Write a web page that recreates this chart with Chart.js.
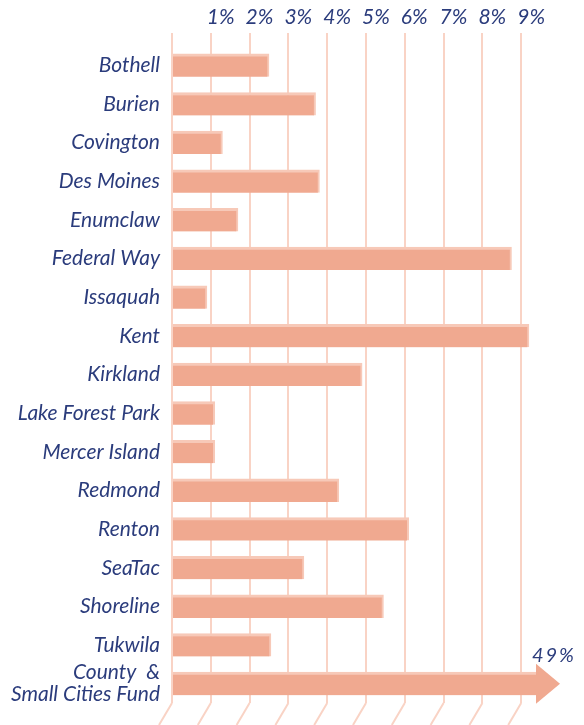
<!DOCTYPE html>
<html>
<head>
<meta charset="utf-8">
<script src="https://cdn.jsdelivr.net/npm/chart.js@4"></script>
<style>
  html, body { margin: 0; padding: 0; background: #fff; }
  #wrap { width: 584px; height: 725px; position: relative; }
</style>
</head>
<body>
<div id="wrap"><canvas id="chart"></canvas></div>
<script>
const cities = [
    'Bothell', 'Burien', 'Covington', 'Des Moines', 'Enumclaw', 'Federal Way',
    'Issaquah', 'Kent', 'Kirkland', 'Lake Forest Park', 'Mercer Island',
    'Redmond', 'Renton', 'SeaTac', 'Shoreline', 'Tukwila',
    ['County  &', 'Small Cities Fund']
];
const shares = [2.5, 3.7, 1.3, 3.8, 1.7, 8.75, 0.9, 9.2, 4.9, 1.1, 1.1, 4.3, 6.1, 3.4, 5.45, 2.55, 49];
const tickLabels = ['1%', '2%', '3%', '4%', '5%', '6%', '7%', '8%', '9%'];

const navy = '#2b3c7c';
const salmon = '#f0a990';
const gridPink = '#f9d3c5';

// floor lines under the grid + arrow head for the big bar
const extras = {
    id: 'extras',
    beforeDatasetsDraw(chart) {
        const { ctx, chartArea, scales } = chart;
        ctx.save();
        ctx.strokeStyle = gridPink;
        ctx.lineWidth = 2;
        for (let v = 0; v <= 9; v++) {
            const x = scales.x.getPixelForValue(v);
            ctx.beginPath();
            ctx.moveTo(x, chartArea.bottom);
            ctx.lineTo(x - 13, chart.height);
            ctx.stroke();
        }
        ctx.restore();
    },
    afterDatasetsDraw(chart) {
        const { ctx, chartArea } = chart;
        const meta = chart.getDatasetMeta(0);
        const last = meta.data[meta.data.length - 1];
        const tip = chartArea.right;
        const base = tip - 24;
        ctx.save();
        ctx.fillStyle = salmon;
        ctx.beginPath();
        ctx.moveTo(base, last.y - 20);
        ctx.lineTo(tip, last.y);
        ctx.lineTo(base, last.y + 20);
        ctx.closePath();
        ctx.fill();
        ctx.fillStyle = navy;
        ctx.font = 'italic 20px Lato';
        ctx.textAlign = 'right';
        ctx.textBaseline = 'alphabetic';
        ctx.letterSpacing = '2px';
        ctx.fillText(shares[shares.length - 1] + '%', tip + 16, last.y - 22);
        ctx.restore();
    }
};

new Chart(document.getElementById('chart'), {
    type: 'bar',
    data: {
        labels: cities,
        datasets: [{
            data: shares,
            backgroundColor: salmon,
            borderColor: '#f7c9b8',
            borderWidth: { top: 3, right: 2, bottom: 0, left: 0 },
            borderSkipped: false,
            barThickness: 23,
            clip: { left: 5, top: 5, right: -24, bottom: 5 }
        }]
    },
    options: {
        indexAxis: 'y',
        animation: false,
        responsive: true,
        maintainAspectRatio: false,
        layout: { padding: { top: 0, right: 24, bottom: 22, left: 0 } },
        plugins: { legend: { display: false }, tooltip: { enabled: false } },
        scales: {
            x: {
                position: 'top',
                min: 0,
                max: 10,
                afterFit(scale) { scale.height = 46; },
                border: { display: false },
                grid: {
                    color: ctx => ctx.tick && ctx.tick.value <= 9 ? gridPink : 'rgba(0,0,0,0)',
                    lineWidth: 2,
                    tickLength: 13,
                    drawTicks: true
                },
                ticks: {
                    stepSize: 1,
                    align: 'start',
                    labelOffset: -4,
                    padding: 3,
                    color: navy,
                    font: { family: 'Lato', style: 'italic', size: 21 },
                    callback: v => (v >= 1 && v <= 9) ? tickLabels[v - 1] : ''
                }
            },
            y: {
                afterFit(scale) { scale.width = 172; },
                border: { display: false },
                grid: { display: false },
                ticks: {
                    autoSkip: false,
                    padding: 4,
                    color: navy,
                    font: { family: 'Lato', style: 'italic', size: 21, lineHeight: 1.05 }
                }
            }
        }
    },
    plugins: [extras]
});
</script>
</body>
</html>
